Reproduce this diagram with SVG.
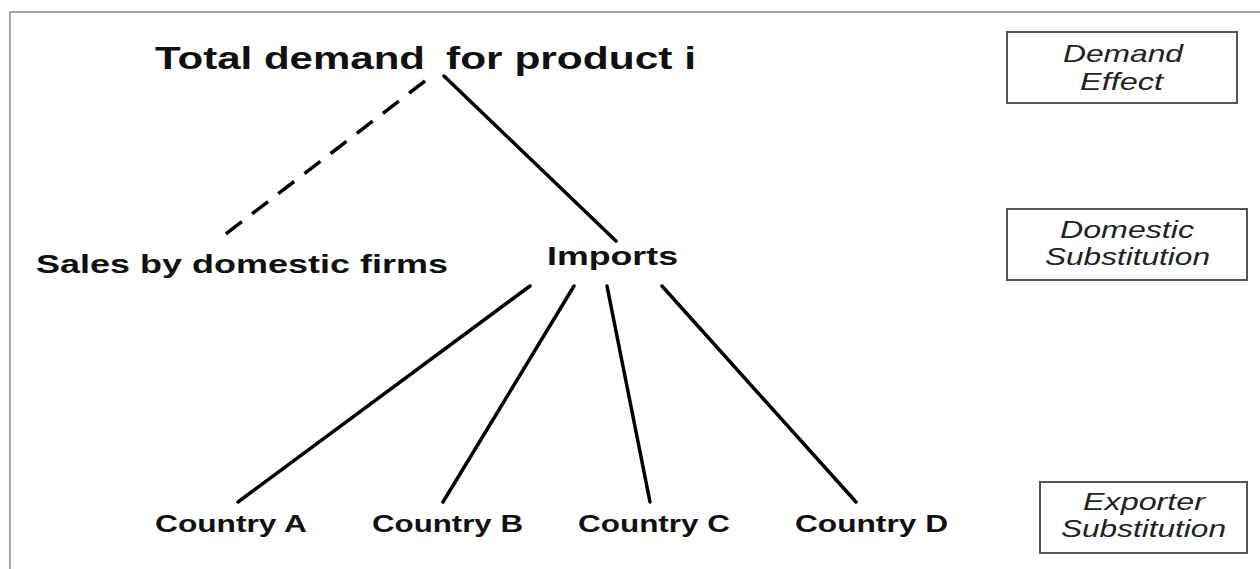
<svg xmlns="http://www.w3.org/2000/svg" width="1260" height="569" viewBox="0 0 1260 569">
<style>
.frame{fill:none;stroke:#a6a6a6;stroke-width:2}
.lbl{font-family:"Liberation Sans",Arial,sans-serif;font-weight:bold;fill:#111}
.box rect{fill:#fff;stroke:#555;stroke-width:2}
.box text{font-family:"Liberation Sans",Arial,sans-serif;font-style:italic;font-size:24px;fill:#222}
.edge{stroke:#000;stroke-width:3.5;fill:none;stroke-linecap:round}
.dash{stroke-dasharray:20 13;stroke-linecap:butt}
</style>
<rect width="1260" height="569" fill="#fff"/>
<path class="frame" d="M10,569 V12 H1260"/>
<g id="connectors">
<line class="edge dash" x1="425" y1="81" x2="218" y2="240"/>
<line class="edge" x1="444" y1="76" x2="616" y2="241"/>
<line class="edge" x1="530" y1="286" x2="238" y2="502"/>
<line class="edge" x1="574" y1="286" x2="443" y2="502"/>
<line class="edge" x1="607" y1="286" x2="650" y2="502"/>
<line class="edge" x1="662" y1="286" x2="856" y2="502"/>
</g>
<g id="total"><text class="lbl" x="155" y="69" font-size="32" textLength="270" lengthAdjust="spacingAndGlyphs">Total demand</text><text class="lbl" x="446" y="69" font-size="32" textLength="250" lengthAdjust="spacingAndGlyphs">for product i</text></g>
<g id="sales"><text class="lbl" x="36" y="273" font-size="26" textLength="412" lengthAdjust="spacingAndGlyphs">Sales by domestic firms</text></g>
<g id="imports"><text class="lbl" x="547" y="265" font-size="26" textLength="131" lengthAdjust="spacingAndGlyphs">Imports</text></g>
<g id="countryA"><text class="lbl" x="155" y="532" font-size="24" textLength="152" lengthAdjust="spacingAndGlyphs">Country A</text></g>
<g id="countryB"><text class="lbl" x="372" y="532" font-size="24" textLength="151" lengthAdjust="spacingAndGlyphs">Country B</text></g>
<g id="countryC"><text class="lbl" x="578" y="532" font-size="24" textLength="152" lengthAdjust="spacingAndGlyphs">Country C</text></g>
<g id="countryD"><text class="lbl" x="795" y="532" font-size="24" textLength="153" lengthAdjust="spacingAndGlyphs">Country D</text></g>
<g id="demandEffect" class="box"><rect x="1007" y="32" width="230" height="71"/><text x="1063" y="62" textLength="120" lengthAdjust="spacingAndGlyphs">Demand</text><text x="1080" y="90" textLength="83" lengthAdjust="spacingAndGlyphs">Effect</text></g>
<g id="domesticSub" class="box"><rect x="1007" y="209" width="240" height="71"/><text x="1060" y="238" textLength="134" lengthAdjust="spacingAndGlyphs">Domestic</text><text x="1045" y="265" textLength="165" lengthAdjust="spacingAndGlyphs">Substitution</text></g>
<g id="exporterSub" class="box"><rect x="1040" y="482" width="207" height="71"/><text x="1083" y="510" textLength="122" lengthAdjust="spacingAndGlyphs">Exporter</text><text x="1061" y="537" textLength="165" lengthAdjust="spacingAndGlyphs">Substitution</text></g>
</svg>
